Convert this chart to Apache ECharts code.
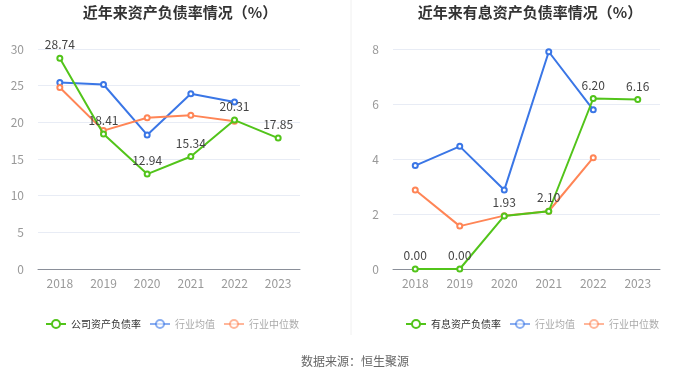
<!DOCTYPE html>
<html>
<head>
<meta charset="utf-8">
<script src="https://cdn.jsdelivr.net/npm/echarts@6/dist/echarts.min.js"></script>
<style>
    html, body { margin: 0; padding: 0; background: #fff; }
    #chart { width: 700px; height: 378px; }
</style>
</head>
<body>
<div id="chart"></div>
<script>
const years = ['2018', '2019', '2020', '2021', '2022', '2023']

// 左图：资产负债率
const debtCompany = [28.74, 18.41, 12.94, 15.34, 20.31, 17.85]
const debtAvg = [25.43, 25.16, 18.28, 23.89, 22.76, null]
const debtMedian = [24.75, 18.87, 20.63, 20.95, 20.14, null]

// 右图：有息资产负债率
const interestCompany = [0.00, 0.00, 1.93, 2.10, 6.20, 6.16]
const interestAvg = [3.76, 4.46, 2.87, 7.90, 5.79, null]
const interestMedian = [2.87, 1.56, 1.94, 2.10, 4.05, null]

const leftTicks = { min: 0, max: 30, interval: 5 }
const rightTicks = { min: 0, max: 8, interval: 2 }

const font = '"Noto Sans CJK SC", "Noto Sans", sans-serif'
const green = '#52c41a'
const blue = '#3a76e6'
const orange = '#ff8556'

const buildLine = (name, data, color, idx, withLabel) => ({
    name: name,
    type: 'line',
    xAxisIndex: idx,
    yAxisIndex: idx,
    data: data,
    symbol: 'emptyCircle',
    symbolSize: 5,
    z: withLabel ? 3 : 2,
    lineStyle: { width: 2, color: color },
    itemStyle: { color: color, borderWidth: 1.5 },
    label: {
        show: withLabel,
        position: 'top',
        distance: 4,
        color: '#444',
        fontSize: 12,
        fontFamily: font,
        formatter: p => p.value.toFixed(2)
    }
})

const buildXAxis = idx => ({
    type: 'category',
    gridIndex: idx,
    data: years,
    axisLine: { lineStyle: { color: '#8a8f99', width: 1 } },
    axisTick: { show: false },
    axisLabel: { color: '#999', fontSize: 12, fontFamily: font, margin: 8 }
})

const buildYAxis = (idx, ticks) => ({
    type: 'value',
    gridIndex: idx,
    min: ticks.min,
    max: ticks.max,
    interval: ticks.interval,
    axisLine: { show: false },
    axisTick: { show: false },
    axisLabel: { color: '#999', fontSize: 12, fontFamily: font, margin: 14 },
    splitLine: { lineStyle: { color: '#e8ecf5', width: 1 } }
})

const buildLegend = (names, left) => ({
    left: left,
    top: 314,
    itemWidth: 20,
    itemHeight: 10,
    itemGap: 8,
    textStyle: { fontSize: 10, fontFamily: font, color: '#333' },
    data: [
        { name: names[0] },
        { name: names[1], textStyle: { color: '#aaa' }, itemStyle: { opacity: 0.6 }, lineStyle: { opacity: 0.6 } },
        { name: names[2], textStyle: { color: '#aaa' }, itemStyle: { opacity: 0.6 }, lineStyle: { opacity: 0.6 } }
    ]
})

const option = {
    backgroundColor: '#fff',
    animation: false,
    title: [
        { text: '近年来资产负债率情况（%）', left: 175, top: 0, textAlign: 'center',
          textStyle: { fontSize: 15, fontWeight: 'bold', color: '#333', fontFamily: font } },
        { text: '近年来有息资产负债率情况（%）', left: 525, top: 0, textAlign: 'center',
          textStyle: { fontSize: 15, fontWeight: 'bold', color: '#333', fontFamily: font } },
        { text: '数据来源：恒生聚源', left: 350, top: 350, textAlign: 'center',
          textStyle: { fontSize: 12, fontWeight: 'normal', color: '#666', fontFamily: font } }
    ],
    graphic: [
        { type: 'line', shape: { x1: 351, y1: 0, x2: 351, y2: 335 },
          style: { stroke: '#f0f0f0', lineWidth: 1 } }
    ],
    legend: [
        buildLegend(['公司资产负债率', '行业均值', '行业中位数'], 40),
        buildLegend(['有息资产负债率', '行业均值', '行业中位数'], 400)
    ],
    grid: [
        { left: 38, top: 49, width: 262, height: 220 },
        { left: 393, top: 49, width: 267, height: 220 }
    ],
    xAxis: [buildXAxis(0), buildXAxis(1)],
    yAxis: [buildYAxis(0, leftTicks), buildYAxis(1, rightTicks)],
    series: [
        buildLine('行业均值', debtAvg, blue, 0, false),
        buildLine('行业中位数', debtMedian, orange, 0, false),
        buildLine('公司资产负债率', debtCompany, green, 0, true),
        buildLine('行业均值', interestAvg, blue, 1, false),
        buildLine('行业中位数', interestMedian, orange, 1, false),
        buildLine('有息资产负债率', interestCompany, green, 1, true)
    ]
}

const EC = echarts.init(document.getElementById('chart'))
EC.setOption(option)
</script>
</body>
</html>
